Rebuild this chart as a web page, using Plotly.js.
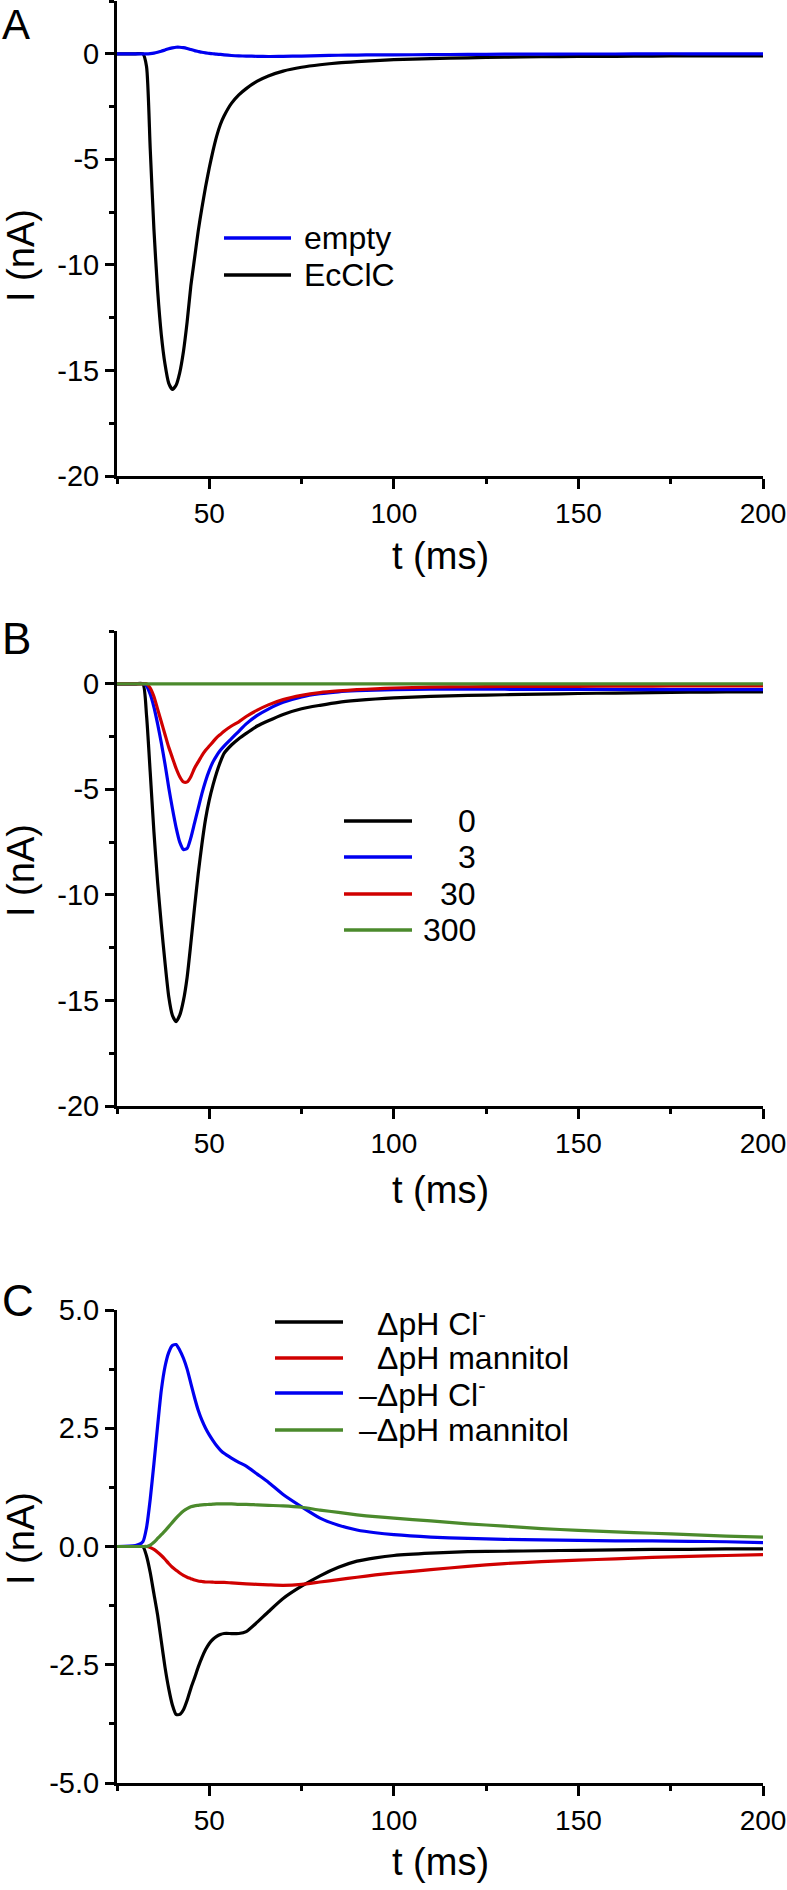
<!DOCTYPE html>
<html>
<head>
<meta charset="utf-8">
<script src="https://cdn.plot.ly/plotly-3.0.1.min.js"></script>
<style>html,body{margin:0;padding:0;background:#fff;}#chart{width:787px;height:1890px;}</style>
</head>
<body>
<div id="chart"></div>
<script>
// ---------- data ----------
const t = [25,30,32,33,34,35,36,37,38,39,40,41,42,43,44,45,46,47,48,49,50,51,52,53,54,56,58,60,63,66,70,75,80,85,90,95,100,110,120,130,140,150,160,170,180,190,200];

// Panel A
const aEmpty = [0,0,0,0,0.01,0.03,0.07,0.12,0.18,0.24,0.28,0.31,0.31,0.29,0.25,0.2,0.15,0.11,0.07,0.04,0.02,0,-0.02,-0.03,-0.05,-0.08,-0.1,-0.11,-0.12,-0.13,-0.12,-0.11,-0.09,-0.07,-0.06,-0.05,-0.05,-0.04,-0.03,-0.02,-0.02,-0.01,-0.01,0,0,0,0];
const aEcClC = [0,0,0,-0.6,-4.5,-8.3,-11.2,-13.3,-14.7,-15.6,-15.9,-15.7,-15.1,-14.1,-12.7,-11.0,-9.7,-8.4,-7.3,-6.3,-5.4,-4.6,-3.9,-3.35,-2.95,-2.35,-1.95,-1.65,-1.3,-1.05,-0.82,-0.64,-0.52,-0.43,-0.37,-0.32,-0.28,-0.23,-0.19,-0.16,-0.14,-0.13,-0.12,-0.11,-0.1,-0.1,-0.1];

// Panel B
const b0 = [0,0,0,-1.5,-4.2,-7.0,-9.4,-11.4,-13.2,-14.8,-15.7,-16.0,-15.7,-15.0,-13.9,-12.3,-10.6,-9.0,-7.6,-6.4,-5.5,-4.8,-4.2,-3.7,-3.3,-2.9,-2.6,-2.35,-2.0,-1.75,-1.45,-1.18,-1.02,-0.88,-0.79,-0.72,-0.67,-0.6,-0.55,-0.52,-0.49,-0.46,-0.44,-0.42,-0.4,-0.39,-0.38];
const b3 = [0,0,0,-0.1,-0.5,-1.1,-1.9,-2.8,-3.8,-4.9,-5.9,-6.8,-7.5,-7.85,-7.8,-7.3,-6.6,-5.9,-5.2,-4.6,-4.1,-3.7,-3.4,-3.15,-2.95,-2.6,-2.25,-1.9,-1.5,-1.2,-0.88,-0.62,-0.47,-0.38,-0.33,-0.3,-0.28,-0.26,-0.26,-0.26,-0.27,-0.27,-0.27,-0.28,-0.28,-0.28,-0.28];
const b30 = [0,0,0,0,-0.2,-0.6,-1.2,-1.8,-2.4,-3.0,-3.5,-4.0,-4.4,-4.65,-4.65,-4.4,-4.0,-3.7,-3.4,-3.15,-2.95,-2.75,-2.55,-2.4,-2.25,-2.0,-1.8,-1.55,-1.25,-1.0,-0.75,-0.55,-0.42,-0.34,-0.28,-0.24,-0.2,-0.16,-0.14,-0.13,-0.12,-0.12,-0.11,-0.11,-0.1,-0.1,-0.1];
const b300 = [0,0,0,0,0,0,0,0,0,0,0,0,0,0,0,0,0,0,0,0,0,0,0,0,0,0,0,0,0,0,0,0,0,0,0,0,0,0,0,0,0,0,0,0,0,0,0];

// Panel C
const cCl = [0,0,0,-0.2,-0.55,-1.0,-1.45,-2.0,-2.55,-3.0,-3.35,-3.55,-3.55,-3.45,-3.25,-3.0,-2.78,-2.55,-2.35,-2.18,-2.05,-1.96,-1.9,-1.86,-1.84,-1.84,-1.84,-1.8,-1.6,-1.38,-1.1,-0.84,-0.62,-0.44,-0.31,-0.24,-0.19,-0.14,-0.11,-0.1,-0.09,-0.08,-0.07,-0.06,-0.06,-0.05,-0.05];
const cMan = [0,0,0,0,-0.02,-0.06,-0.12,-0.19,-0.27,-0.36,-0.44,-0.5,-0.56,-0.61,-0.65,-0.68,-0.71,-0.73,-0.74,-0.75,-0.75,-0.755,-0.76,-0.76,-0.76,-0.77,-0.78,-0.79,-0.8,-0.81,-0.82,-0.8,-0.75,-0.7,-0.65,-0.6,-0.56,-0.49,-0.42,-0.36,-0.32,-0.29,-0.26,-0.23,-0.21,-0.19,-0.17];
const cNegCl = [0,0.02,0.1,0.4,1.0,1.75,2.55,3.3,3.8,4.1,4.25,4.27,4.15,3.98,3.75,3.45,3.15,2.88,2.67,2.5,2.36,2.24,2.13,2.04,1.97,1.87,1.78,1.7,1.53,1.36,1.1,0.84,0.6,0.45,0.35,0.29,0.25,0.2,0.17,0.15,0.14,0.13,0.12,0.12,0.11,0.1,0.08];
const cNegMan = [0,0,0,0,0.03,0.09,0.17,0.25,0.33,0.42,0.51,0.6,0.68,0.75,0.8,0.84,0.86,0.87,0.88,0.885,0.89,0.895,0.9,0.9,0.9,0.9,0.89,0.89,0.88,0.87,0.86,0.83,0.77,0.72,0.67,0.63,0.6,0.54,0.48,0.43,0.38,0.34,0.31,0.28,0.25,0.22,0.2];

// tick labels
const yTickValsAB = [-20,-15,-10,-5,0];
const yTickTextAB = ['-20','-15','-10','-5','0'];
const yTickValsC = [-5,-2.5,0,2.5,5];
const yTickTextC = ['-5.0','-2.5','0.0','2.5','5.0'];
const xTickVals = [50,100,150,200];
const xTickText = ['50','100','150','200'];

// legend names
const namesA = ['empty','EcClC'];
const namesB = ['0','3','30','300'];
const namesC = ['\u0394pH Cl<sup>-</sup>','\u0394pH mannitol','\u2013\u0394pH Cl<sup>-</sup>','\u2013\u0394pH mannitol'];

// ---------- styling ----------
const W = 787, H = 1890;
const FONT = 'Liberation Sans, Arial, Helvetica, sans-serif';
const BLUE = '#0000f0', BLACK = '#000000', RED = '#d00000', GREEN = '#4b8a2c';
const px = x => x / W;
const py = y => 1 - y / H;
const LW = 3.2;

function line(x, y, name, color, xa, ya) {
  return {x: x, y: y, name: name, type: 'scatter', mode: 'lines',
    line: {color: color, width: LW, shape: 'spline', smoothing: 0.6},
    xaxis: xa, yaxis: ya, showlegend: false, hoverinfo: 'skip'};
}

const traces = [
  line(t, aEcClC, namesA[1], BLACK, 'x', 'y'),
  line(t, aEmpty, namesA[0], BLUE, 'x', 'y'),
  line(t, b0, namesB[0], BLACK, 'x2', 'y2'),
  line(t, b3, namesB[1], BLUE, 'x2', 'y2'),
  line(t, b30, namesB[2], RED, 'x2', 'y2'),
  line(t, b300, namesB[3], GREEN, 'x2', 'y2'),
  line(t, cCl, namesC[0], BLACK, 'x3', 'y3'),
  line(t, cMan, namesC[1], RED, 'x3', 'y3'),
  line(t, cNegCl, namesC[2], BLUE, 'x3', 'y3'),
  line(t, cNegMan, namesC[3], GREEN, 'x3', 'y3')
];

const xDomain = [px(117), px(763)];
function xAxis(anchor) {
  return {domain: xDomain, anchor: anchor, range: [25, 200],
    tickmode: 'array', tickvals: xTickVals, ticktext: xTickText,
    ticks: 'outside', ticklen: 10, tickwidth: 3, tickcolor: '#000',
    showline: true, linewidth: 3, linecolor: '#000',
    showgrid: false, zeroline: false,
    tickfont: {family: FONT, size: 28, color: '#000'},
    ticklabelstandoff: 0,
    minor: {tickmode: 'linear', tick0: 0, dtick: 25, ticks: 'outside', ticklen: 5, tickwidth: 3, tickcolor: '#000', showgrid: false},
    fixedrange: true};
}
function yAxis(anchor, dom, range, vals, text, minorD) {
  return {domain: dom, anchor: anchor, range: range,
    tickmode: 'array', tickvals: vals, ticktext: text,
    ticks: 'outside', ticklen: 9, tickwidth: 3, tickcolor: '#000',
    showline: true, linewidth: 3, linecolor: '#000',
    showgrid: false, zeroline: false,
    tickfont: {family: FONT, size: 29, color: '#000'},
    ticklabelstandoff: 0,
    minor: {tickmode: 'linear', tick0: 0, dtick: minorD, ticks: 'outside', ticklen: 5, tickwidth: 3, tickcolor: '#000', showgrid: false},
    fixedrange: true};
}

const annotations = [];
function ann(text, x, y, size, xanchor, angle, yanchor) {
  annotations.push({text: text, x: px(x), y: py(y), xref: 'paper', yref: 'paper',
    xanchor: xanchor || 'center', yanchor: yanchor || 'middle', showarrow: false,
    textangle: angle || 0, font: {family: FONT, size: size, color: '#000'}, borderpad: 0});
}
// panel letters
ann('A', 1, 0, 42, 'left', 0, 'top');
ann('B', 1, 638, 44, 'left');
ann('C', 1, 1300, 44, 'left');
// axis titles
ann('t (ms)', 440, 556, 38);
ann('t (ms)', 440, 1190, 38);
ann('t (ms)', 440, 1862, 38);
ann('I (nA)', 21, 256, 38, 'center', -90);
ann('I (nA)', 21, 871, 38, 'center', -90);
ann('I (nA)', 21, 1539, 38, 'center', -90);

// legends (drawn as shapes + text)
const shapes = [];
function legLine(x0, x1, y, color) {
  shapes.push({type: 'line', xref: 'paper', yref: 'paper', x0: px(x0), x1: px(x1), y0: py(y), y1: py(y),
    line: {color: color, width: 3.5}});
}
const rowsA = [238, 275];
const colorsA = [BLUE, BLACK];
rowsA.forEach((y, i) => { legLine(224, 291, y, colorsA[i]); ann(namesA[i], 303, y, 32, 'left'); });
const rowsB = [821, 857, 894, 930];
const colorsB = [BLACK, BLUE, RED, GREEN];
rowsB.forEach((y, i) => { legLine(344, 412, y, colorsB[i]); ann(namesB[i], 477, y, 32, 'right'); });
const rowsC = [1322, 1358, 1393, 1430];
const colorsC = [BLACK, RED, BLUE, GREEN];
const textXC = [376, 376, 358, 358];
rowsC.forEach((y, i) => { legLine(275, 343, y, colorsC[i]); ann(namesC[i], textXC[i], y, 32, 'left'); });

const layout = {
  width: W, height: H,
  margin: {l: 0, r: 0, t: 0, b: 0, pad: 0},
  paper_bgcolor: '#fff', plot_bgcolor: '#fff',
  showlegend: false,
  font: {family: FONT, color: '#000'},
  xaxis: xAxis('y'),
  xaxis2: xAxis('y2'),
  xaxis3: xAxis('y3'),
  yaxis: yAxis('x', [py(476), py(1)], [-20, 2.5], yTickValsAB, yTickTextAB, 2.5),
  yaxis2: yAxis('x2', [py(1106), py(631)], [-20, 2.5], yTickValsAB, yTickTextAB, 2.5),
  yaxis3: yAxis('x3', [py(1783), py(1310)], [-5, 5], yTickValsC, yTickTextC, 1.25),
  annotations: annotations,
  shapes: shapes
};

Plotly.newPlot('chart', traces, layout, {displayModeBar: false, staticPlot: true});
</script>
</body>
</html>
